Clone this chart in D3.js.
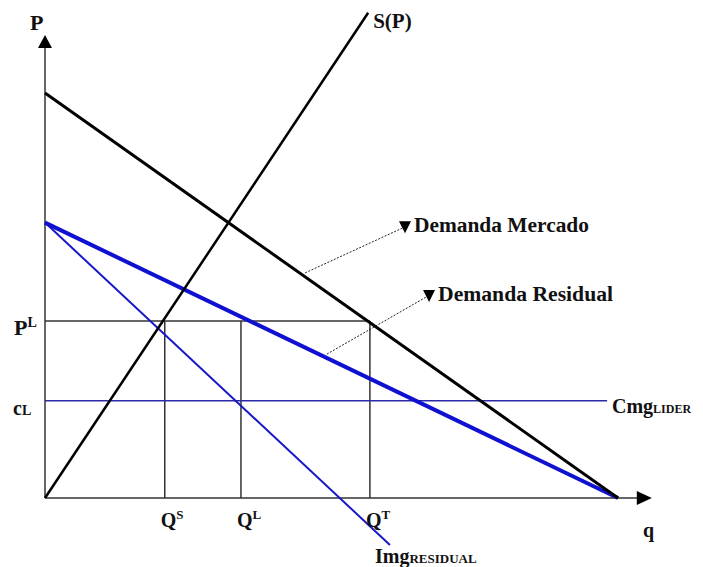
<!DOCTYPE html>
<html>
<head>
<meta charset="utf-8">
<script src="https://cdn.jsdelivr.net/npm/d3@7"></script>
<style>
  body { margin: 0; background: #fff; }
  text { font-family: "Liberation Serif", "Times New Roman", serif; font-weight: bold; fill: #111; }
</style>
</head>
<body>
<script>
// curves, in (q, P) units
const demandMarket = [[0, 100], [100, 0]];
const demandResidual = [[0, 68], [100, 0]];
const mrResidual = [[0, 68], [60.2, -11.6]];
const supply = [[0, 0], [56.4, 119.8]];

// levels
const pL = 43.7;
const cL = 24;
const cLEnd = 98.1;

// quantities marked on the q axis
const qNames = ["S", "L", "T"];
const qValues = [20.9, 34.2, 56.7];

// axis ends
const qMax = 105.9;
const pMax = 114.3;

// leader lines: start on a curve (q), end point (q, P)
const leaders = [
  { label: "Demanda Mercado", q: 45.4, curve: demandMarket, end: [62.3, 66.6] },
  { label: "Demanda Residual", q: 49.2, curve: demandResidual, end: [66.5, 49.6] }
];

const w = 703;
const h = 567;

const x = d3.scaleLinear().domain([0, 100]).range([45, 618]);
const y = d3.scaleLinear().domain([0, 100]).range([498, 93]);

const svg = d3.select("body").append("svg").attr("width", w).attr("height", h);

const line = d3.line().x(d => x(d[0])).y(d => y(d[1]));

function onCurve(curve, q) {
  const [a, b] = curve;
  return [q, a[1] + (b[1] - a[1]) * (q - a[0]) / (b[0] - a[0])];
}

// guide lines
svg.append("path")
  .attr("d", line([[0, pL], [qValues[2], pL]]))
  .attr("stroke", "#333").attr("stroke-width", 1.5).attr("fill", "none");

svg.selectAll(".vq")
  .data(qValues)
  .enter()
  .append("path")
  .attr("d", d => line([[d, pL], [d, 0]]))
  .attr("stroke", "#333").attr("stroke-width", 1.5).attr("fill", "none");

svg.append("path")
  .attr("d", line([[0, cL], [cLEnd, cL]]))
  .attr("stroke", "#2a2aa8").attr("stroke-width", 1.5).attr("fill", "none");

// axes
svg.append("path")
  .attr("d", line([[0, 0], [qMax - 2.5, 0]]))
  .attr("stroke", "#333").attr("stroke-width", 1.5);
svg.append("path")
  .attr("d", line([[0, 0], [0, pMax - 3]]))
  .attr("stroke", "#333").attr("stroke-width", 1.5);

// arrow heads
const qTip = [x(qMax), y(0)];
svg.append("path")
  .attr("d", `M${qTip[0]},${qTip[1]} L${qTip[0] - 15},${qTip[1] - 7} L${qTip[0] - 15},${qTip[1] + 7} Z`)
  .attr("fill", "#000");
const pTip = [x(0), y(pMax)];
svg.append("path")
  .attr("d", `M${pTip[0]},${pTip[1]} L${pTip[0] - 7},${pTip[1] + 13} L${pTip[0] + 7},${pTip[1] + 13} Z`)
  .attr("fill", "#000");

// curves
svg.append("path").attr("d", line(mrResidual))
  .attr("stroke", "#1818c8").attr("stroke-width", 2).attr("fill", "none");
svg.append("path").attr("d", line(demandResidual))
  .attr("stroke", "#1010d0").attr("stroke-width", 4).attr("fill", "none");
svg.append("path").attr("d", line(demandMarket))
  .attr("stroke", "#000").attr("stroke-width", 3).attr("fill", "none");
svg.append("path").attr("d", line(supply))
  .attr("stroke", "#000").attr("stroke-width", 2.5).attr("fill", "none");

// leaders
leaders.forEach(l => {
  const s = onCurve(l.curve, l.q);
  const ex = x(l.end[0]);
  const ey = y(l.end[1]);
  svg.append("path")
    .attr("d", `M${x(s[0])},${y(s[1]) - 4} L${ex},${ey}`)
    .attr("stroke", "#222").attr("stroke-width", 1).attr("stroke-dasharray", "2,1.5");
  svg.append("path")
    .attr("d", `M${ex - 3},${ey - 7} L${ex + 9},${ey - 7} L${ex + 3},${ey + 5} Z`)
    .attr("fill", "#000");
  svg.append("text")
    .attr("x", ex + 12).attr("y", ey + 4)
    .attr("font-size", 20)
    .attr("textLength", 175).attr("lengthAdjust", "spacingAndGlyphs")
    .text(l.label);
});

// labels
svg.append("text").attr("x", 30).attr("y", 30).attr("font-size", 22).text("P");
svg.append("text").attr("x", x(56.4) + 5).attr("y", 28).attr("font-size", 21).text("S(P)");
svg.append("text").attr("x", 14).attr("y", 335).attr("font-size", 11)
  .call(t => {
    t.append("tspan").attr("font-size", 22).text("P");
    t.append("tspan").attr("font-size", 14).attr("dy", -8).text("L");
  });
svg.append("text").attr("x", 13).attr("y", 415).attr("font-size", 11)
  .call(t => {
    t.append("tspan").attr("font-size", 20).text("c");
    t.append("tspan").attr("font-size", 14).text("L");
  });

svg.selectAll(".ql")
  .data(qValues)
  .enter()
  .append("text")
  .attr("x", d => x(d) - 4)
  .attr("y", 527)
  .call(t => {
    t.append("tspan").attr("font-size", 20).text("Q");
    t.append("tspan").attr("font-size", 13).attr("dy", -8).text((d, i) => qNames[i]);
  });

svg.append("text").attr("x", 643).attr("y", 537).attr("font-size", 20).text("q");

svg.append("text").attr("x", 375).attr("y", 563)
  .call(t => {
    t.append("tspan").attr("font-size", 20).text("Img");
    t.append("tspan").attr("font-size", 13).text("RESIDUAL");
  });

svg.append("text").attr("x", 612).attr("y", 413)
  .call(t => {
    t.append("tspan").attr("font-size", 20).text("Cmg");
    t.append("tspan").attr("font-size", 12).text("LIDER");
  });
</script>
</body>
</html>
